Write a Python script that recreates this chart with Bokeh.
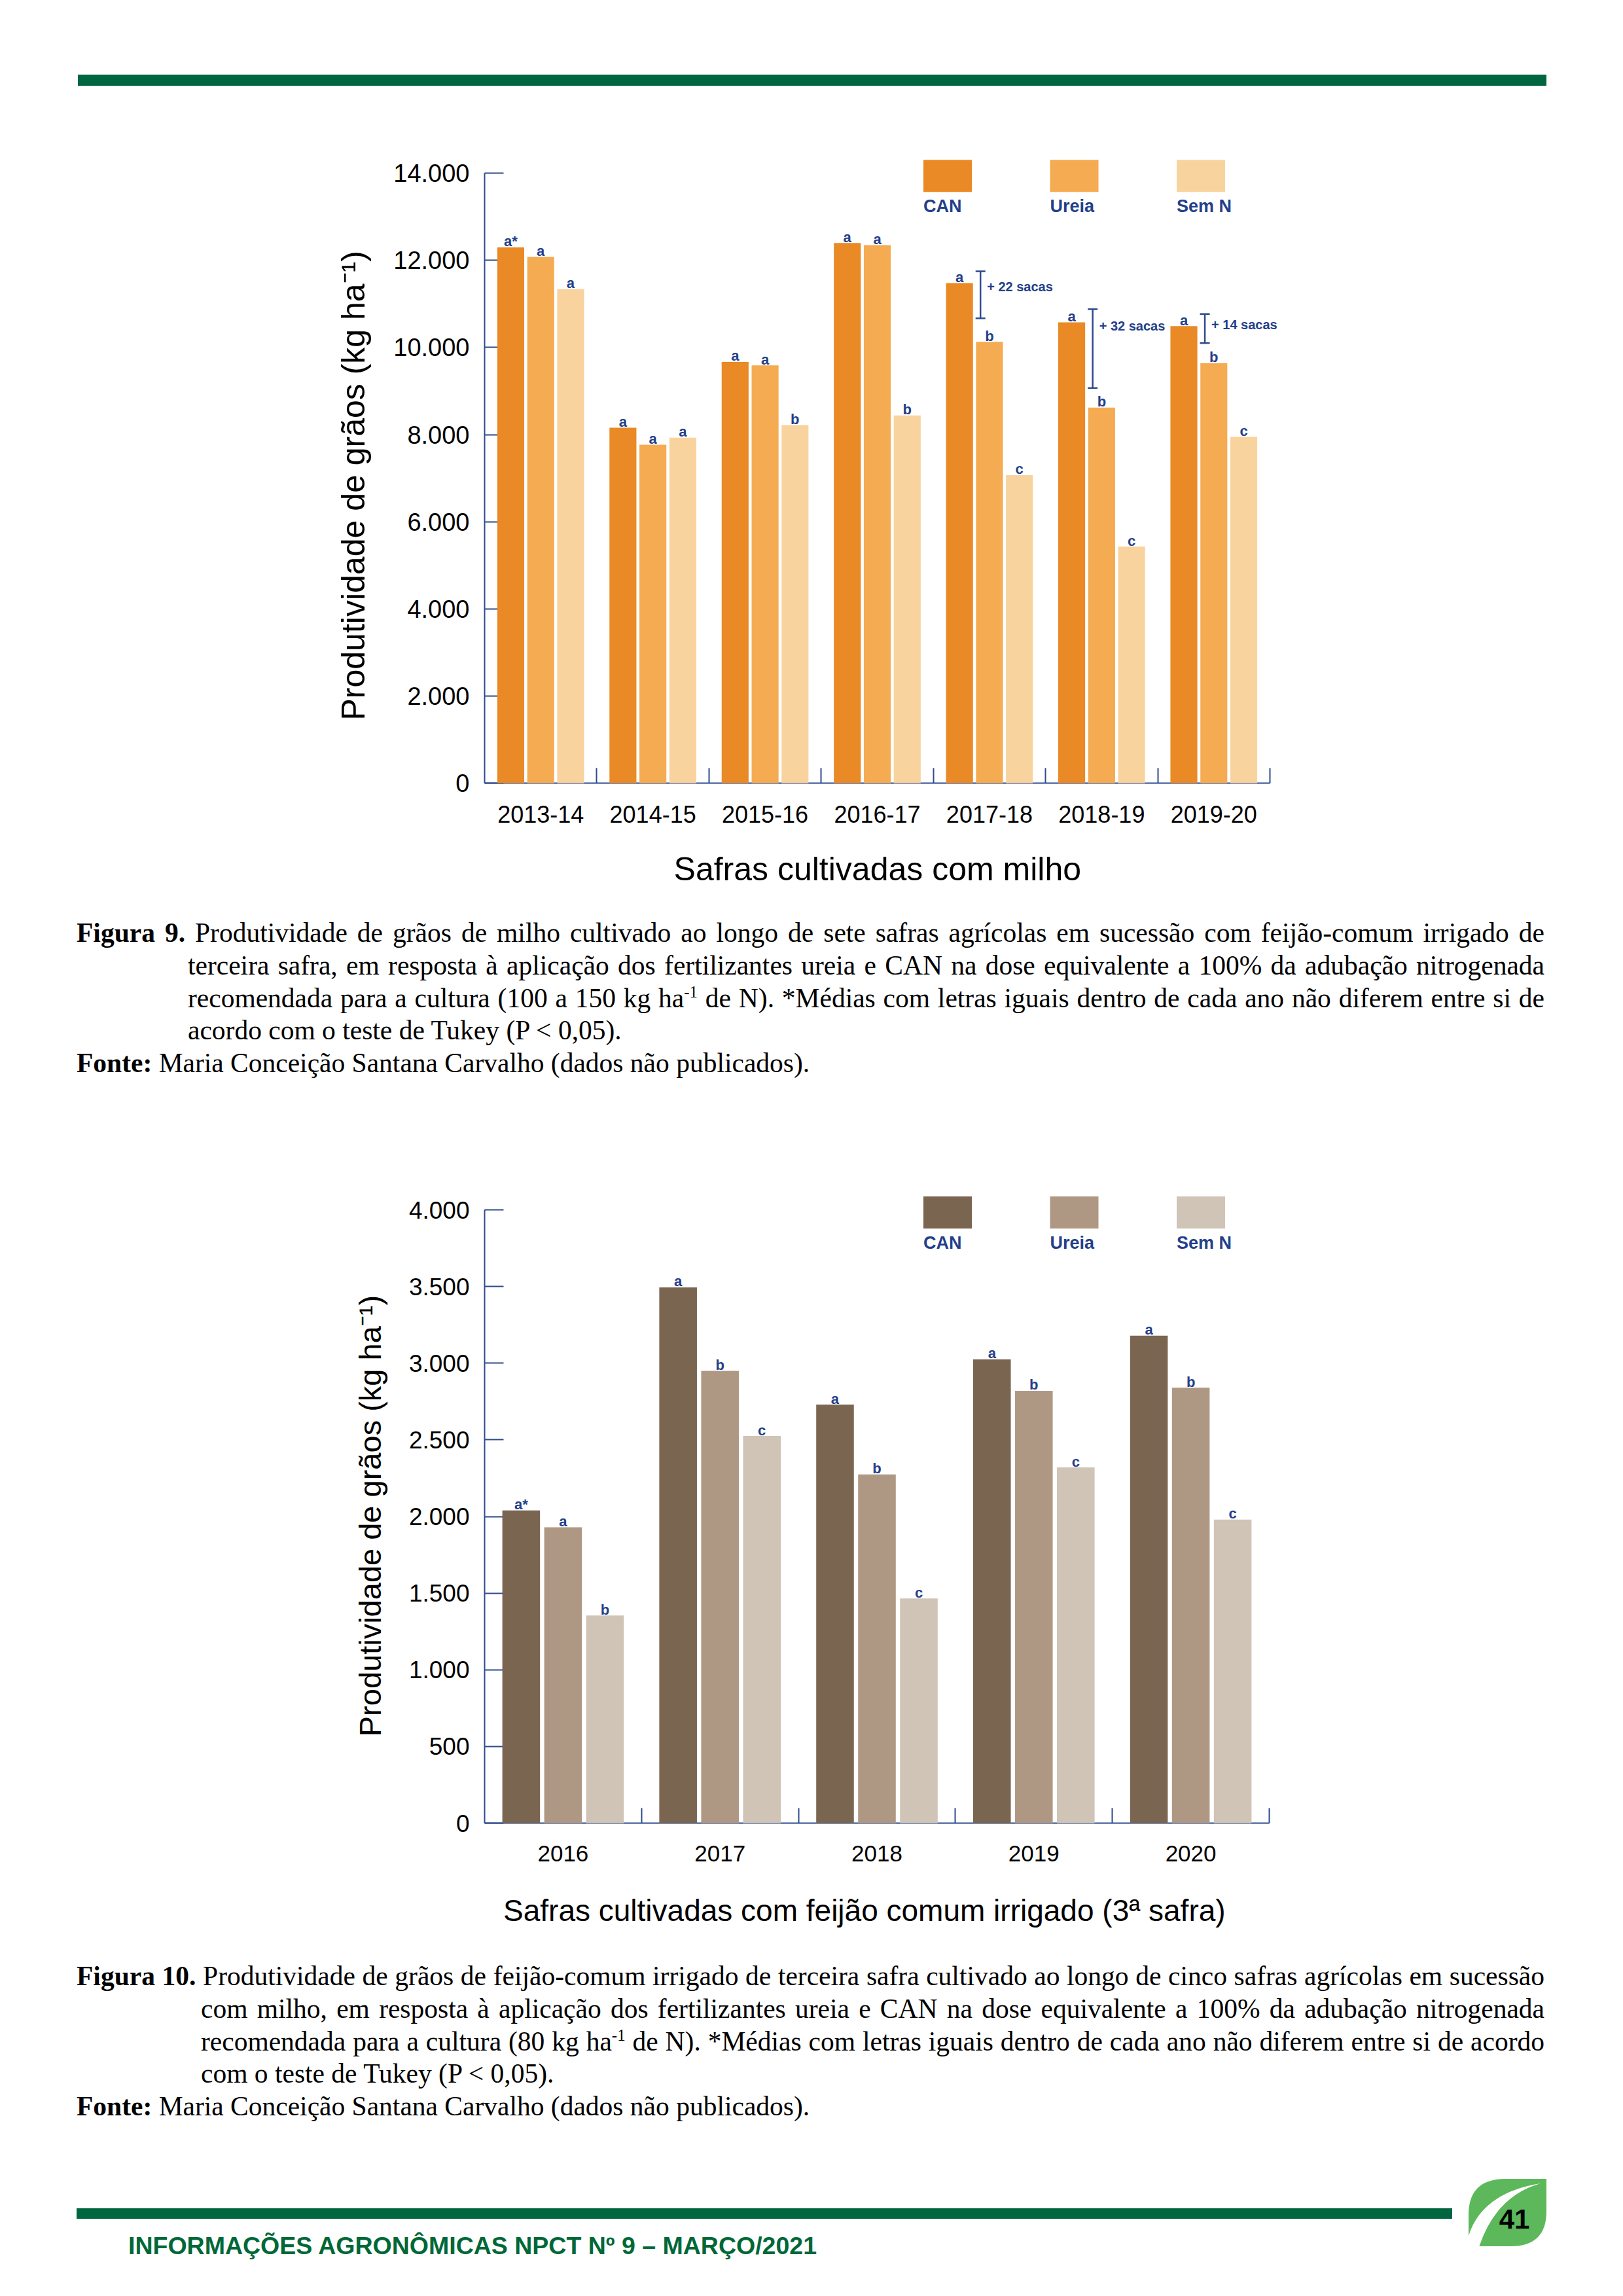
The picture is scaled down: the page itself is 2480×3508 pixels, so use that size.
from bokeh.plotting import figure
from bokeh.models import (ColumnDataSource, FixedTicker, Range1d, Whisker, TeeHead,
                          BoxAnnotation, Label, LabelSet, Div)
from bokeh.layouts import column
from bokeh.transform import dodge
from bokeh.core.properties import value
from bokeh.embed import file_html
from bokeh.resources import INLINE

# ---------------- data : Figura 9 (milho) ----------------
safras_milho = ["2013-14", "2014-15", "2015-16", "2016-17", "2017-18", "2018-19", "2019-20"]
milho_can = [12300, 8160, 9670, 12400, 11480, 10580, 10490]
milho_ureia = [12080, 7770, 9590, 12350, 10130, 8620, 9640]
milho_semn = [11340, 7930, 8220, 8440, 7070, 5430, 7950]
milho_let_can = ["a*", "a", "a", "a", "a", "a", "a"]
milho_let_ureia = ["a", "a", "a", "a", "b", "b", "b"]
milho_let_semn = ["a", "a", "b", "b", "c", "c", "c"]
bracket_safras = ["2017-18", "2018-19", "2019-20"]
bracket_top = [11750, 10880, 10770]
bracket_bottom = [10670, 9070, 10100]
bracket_text = ["+ 22 sacas", "+ 32 sacas", "+ 14 sacas"]
bracket_text_y = [11390, 10500, 10530]

# ---------------- data : Figura 10 (feijão) ----------------
safras_feijao = ["2016", "2017", "2018", "2019", "2020"]
feijao_can = [2040, 3495, 2730, 3025, 3180]
feijao_ureia = [1930, 2950, 2275, 2820, 2840]
feijao_semn = [1355, 2525, 1465, 2320, 1980]
feijao_let_can = ["a*", "a", "a", "a", "a"]
feijao_let_ureia = ["a", "b", "b", "b", "b"]
feijao_let_semn = ["b", "c", "c", "c", "c"]

series = ["CAN", "Ureia", "Sem N"]
milho_colors = ["#E98A26", "#F5AB52", "#F9D39E"]
feijao_colors = ["#7A6551", "#AF9883", "#D0C4B7"]

NAVY_AXIS = "#2E4A8C"
NAVY_TEXT = "#23408A"
SANS = "Liberation Sans"
NBSP = "\u00a0"


def fmt_pt(v):
    return f"{v:,}".replace(",", ".")


def build_chart(cats, vals, lets, colors, ytick_step, ytop, yrange_end,
                span_w, frame_h, borders, ylabel, xlabel, ytick_fs, xtick_fs,
                ytitle_fs, xtitle_fs, xtitle_standoff, ext_px=0, brackets=None):
    n = len(cats)
    bl, br, bt, bb = borders
    scale = frame_h / yrange_end      # px per unit
    xs = [i + 0.5 for i in range(n)]
    src = ColumnDataSource(dict(x=xs, can=vals[0], ureia=vals[1], semn=vals[2],
                                lc=lets[0], lu=lets[1], ls=lets[2]))
    x_end = n * (span_w + ext_px) / span_w
    p = figure(frame_width=span_w + ext_px, frame_height=frame_h,
               x_range=Range1d(0, x_end), y_range=Range1d(0, yrange_end),
               output_backend="svg", toolbar_location=None,
               min_border_left=bl, min_border_right=br - ext_px,
               min_border_top=bt, min_border_bottom=bb)
    p.outline_line_color = None
    p.xgrid.visible = False
    p.ygrid.visible = False
    p.background_fill_color = "white"
    p.border_fill_color = "white"

    offsets = [-0.267, 0.0, 0.267]
    cols = ["can", "ureia", "semn"]
    lcols = ["lc", "lu", "ls"]
    for off, col, lc, c in zip(offsets, cols, lcols, colors):
        r = p.vbar(x=dodge("x", off, range=p.x_range), top=col, width=0.24,
                   source=src, fill_color=c, line_color=None)
        r.level = "annotation"
        p.text(x=dodge("x", off, range=p.x_range), y=col, text=lc, source=src,
               text_align="center", text_baseline="alphabetic", y_offset=-9,
               text_font=value(SANS), text_font_style="bold",
               text_font_size="22px", text_color=NAVY_TEXT)

    if brackets is not None:
        bcats, btop, bbot, btext, bty = brackets
        bx = [cats.index(c) + 0.42 for c in bcats]
        bsrc = ColumnDataSource(dict(x=bx, top=btop, bottom=bbot, t=btext, ty=bty))
        w = Whisker(base="x", upper="top", lower="bottom", source=bsrc,
                    dimension="height", line_color=NAVY_AXIS, line_width=2.5,
                    upper_head=TeeHead(size=15, line_color=NAVY_AXIS, line_width=2.5),
                    lower_head=TeeHead(size=15, line_color=NAVY_AXIS, line_width=2.5))
        p.add_layout(w)
        p.add_layout(LabelSet(x="x", y="ty", text="t", source=bsrc, x_offset=10,
                              text_align="left", text_baseline="middle",
                              text_font=value(SANS), text_font_style="bold",
                              text_font_size="20px", text_color=NAVY_TEXT))

    # legend: swatches with labels beneath
    for k, (name, c) in enumerate(zip(series, colors)):
        left_px = 670.5 + k * 193.5
        left = left_px / span_w * n
        right = (left_px + 74) / span_w * n
        top = ytop + 20.5 / scale
        bottom = top - 49 / scale
        p.add_layout(BoxAnnotation(left=left, right=right, top=top, bottom=bottom,
                                   fill_color=c, fill_alpha=1.0, line_color=None))
        p.add_layout(Label(x=left, y=bottom - 22 / scale, text=name,
                           text_baseline="alphabetic", text_align="left",
                           text_font=SANS, text_font_style="bold",
                           text_font_size="27px", text_color=NAVY_TEXT))

    # x axis
    xa = p.xaxis[0]
    xa.ticker = FixedTicker(ticks=xs, minor_ticks=list(range(1, n + 1)))
    xa.major_label_overrides = {x: c for x, c in zip(xs, cats)}
    xa.bounds = (0, n)
    xa.major_tick_line_color = None
    xa.minor_tick_in = 23
    xa.minor_tick_out = 0
    xa.minor_tick_line_color = NAVY_AXIS
    xa.minor_tick_line_width = 2
    xa.axis_line_color = NAVY_AXIS
    xa.axis_line_width = 2
    xa.major_label_standoff = 28
    xa.major_label_text_font = SANS
    xa.major_label_text_font_size = f"{xtick_fs}px"
    xa.major_label_text_color = "black"
    xa.axis_label = xlabel
    xa.axis_label_text_font = SANS
    xa.axis_label_text_font_style = "normal"
    xa.axis_label_text_font_size = f"{xtitle_fs}px"
    xa.axis_label_text_color = "black"
    xa.axis_label_standoff = xtitle_standoff

    # y axis
    ya = p.yaxis[0]
    yt = list(range(0, ytop + 1, ytick_step))
    ya.ticker = FixedTicker(ticks=yt, minor_ticks=[])
    ya.major_label_overrides = {v: fmt_pt(v) for v in yt}
    ya.bounds = (0, ytop)
    ya.major_tick_in = 29
    ya.major_tick_out = 0
    ya.major_tick_line_color = NAVY_AXIS
    ya.major_tick_line_width = 2
    ya.minor_tick_line_color = None
    ya.axis_line_color = NAVY_AXIS
    ya.axis_line_width = 2
    ya.major_label_standoff = 23
    ya.major_label_text_font = SANS
    ya.major_label_text_font_size = f"{ytick_fs}px"
    ya.major_label_text_color = "black"
    ya.axis_label = ylabel
    ya.axis_label_text_font = SANS
    ya.axis_label_text_font_style = "normal"
    ya.axis_label_text_font_size = f"{ytitle_fs}px"
    ya.axis_label_text_color = "black"
    ya.axis_label_standoff = 30
    return p


ytitle = "Produtividade de grãos (kg ha⁻¹)"

fig9 = build_chart(safras_milho, [milho_can, milho_ureia, milho_semn],
                   [milho_let_can, milho_let_ureia, milho_let_semn], milho_colors,
                   2000, 14000, 14500, 1200, 965, (740, 524, 79, 191),
                   ytitle + NBSP * 4, "Safras cultivadas com milho" + NBSP * 5,
                   38, 36, 50, 50, 40, ext_px=70,
                   brackets=(bracket_safras, bracket_top, bracket_bottom,
                             bracket_text, bracket_text_y))

fig10 = build_chart(safras_feijao, [feijao_can, feijao_ureia, feijao_semn],
                    [feijao_let_can, feijao_let_ureia, feijao_let_semn], feijao_colors,
                    500, 4000, 4120, 1199, 965, (738, 527, 78, 192),
                    ytitle + NBSP * 2,
                    "Safras cultivadas com feijão comum irrigado (3ª safra)" + NBSP * 3,
                    37, 35, 47, 46, 46)

# ---------------- page texts ----------------
GREEN = "#006640"
SERIF = "Liberation Serif, Times New Roman, serif"
SUP = "<sup style='font-size:60%;vertical-align:0.6em;line-height:0'>-1</sup>"

cap9_lines = [
    "<b>Figura 9.</b> Produtividade de grãos de milho cultivado ao longo de sete safras agrícolas em sucessão com feijão-comum irrigado de",
    "terceira safra, em resposta à aplicação dos fertilizantes ureia e CAN na dose equivalente a 100% da adubação nitrogenada",
    "recomendada para a cultura (100 a 150 kg ha" + SUP + " de N). *Médias com letras iguais dentro de cada ano não diferem entre si de",
    "acordo com o teste de Tukey (P &lt; 0,05).",
]
cap10_lines = [
    "<b>Figura 10.</b> Produtividade de grãos de feijão-comum irrigado de terceira safra cultivado ao longo de cinco safras agrícolas em sucessão",
    "com milho, em resposta à aplicação dos fertilizantes ureia e CAN na dose equivalente a 100% da adubação nitrogenada",
    "recomendada para a cultura (80 kg ha" + SUP + " de N). *Médias com letras iguais dentro de cada ano não diferem entre si de acordo",
    "com o teste de Tukey (P &lt; 0,05).",
]
fonte = "<b>Fonte:</b> Maria Conceição Santana Carvalho (dados não publicados)."
footer_text = "INFORMAÇÕES AGRONÔMICAS NPCT Nº 9 – MARÇO/2021"
page_number = "41"

DX = 4  # horizontal nudge of page furniture


def caption_html(lines, indent, top):
    out = [f"<div style='position:absolute;left:{108 + DX}px;top:{top}px;width:2243px;"
           f"font-family:{SERIF};font-size:41.5px;line-height:49.75px;color:#000;'>"]
    for i, ln in enumerate(lines):
        last = i == len(lines) - 1
        ml = 0 if i == 0 else indent
        out.append(f"<div style='margin-left:{ml}px;text-align:justify;"
                   f"text-align-last:{'left' if last else 'justify'};white-space:nowrap;'>{ln}</div>")
    out.append(f"<div style='text-align:left;white-space:nowrap;'>{fonte}</div>")
    out.append("</div>")
    return "".join(out)


header = Div(width=2464, height=142, text=(
    "<div style='position:relative;width:2464px;height:142px;'>"
    f"<div style='position:absolute;left:{110 + DX}px;top:109px;width:2244px;height:17px;background:{GREEN};'></div>"
    "</div>"))

cap9 = Div(width=2464, height=345, text=(
    "<div style='position:relative;width:2464px;height:345px;'>"
    + caption_html(cap9_lines, 170, 9) + "</div>"))

leaf_svg = (
    f"<svg width='119' height='103' viewBox='0 0 119 103' style='position:absolute;left:{2235 + DX}px;top:347px;'>"
    "<path d='M17,103 L64,103 Q119,103 119,50 L119,0 L57,0 Q0,0 0,55 L0,92 Z' fill='#5CB85A'/>"
    "<path d='M-2,94 Q16,22 110,7 Q42,26 16,104 Z' fill='white'/>"
    f"<text x='70' y='76' text-anchor='middle' font-family='Liberation Sans' font-weight='bold' font-size='42' fill='#000'>{page_number}</text>"
    "</svg>")

cap10 = Div(width=2464, height=525, text=(
    "<div style='position:relative;width:2464px;height:525px;'>"
    + caption_html(cap10_lines, 190, 13)
    + f"<div style='position:absolute;left:{108 + DX}px;top:392px;width:2102px;height:16px;background:{GREEN};'></div>"
    + f"<div style='position:absolute;left:{187 + DX}px;top:431px;font-family:Liberation Sans;font-weight:bold;"
      f"font-size:37.5px;line-height:37.5px;color:#006837;white-space:nowrap;'>{footer_text}</div>"
    + leaf_svg + "</div>"))

page = column(header, fig9, cap9, fig10, cap10, spacing=0)

open("out.html", "w").write(file_html(page, INLINE))
